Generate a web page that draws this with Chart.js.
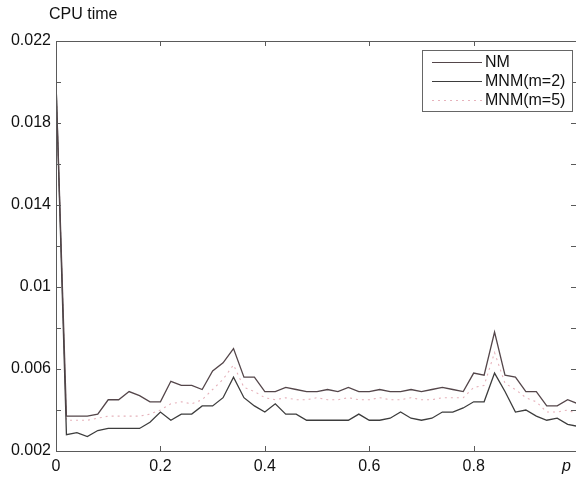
<!DOCTYPE html>
<html>
<head>
<meta charset="utf-8">
<script src="https://cdn.jsdelivr.net/npm/chart.js@4.4.1/dist/chart.umd.min.js"></script>
<style>
    body { margin: 0; background: #ffffff; }
    #wrap { width: 576px; height: 478px; }
</style>
</head>
<body>
<div id="wrap"><canvas id="cpuTimeGraphic" width="576" height="478"></canvas></div>
<script>
/* Data */
let pValues = [0, 0.02, 0.04, 0.06, 0.08, 0.10, 0.12, 0.14, 0.16, 0.18,
    0.20, 0.22, 0.24, 0.26, 0.28, 0.30, 0.32, 0.34, 0.36, 0.38,
    0.40, 0.42, 0.44, 0.46, 0.48, 0.50, 0.52, 0.54, 0.56, 0.58,
    0.60, 0.62, 0.64, 0.66, 0.68, 0.70, 0.72, 0.74, 0.76, 0.78,
    0.80, 0.82, 0.84, 0.86, 0.88, 0.90, 0.92, 0.94, 0.96, 0.98, 1.00];

let nmTimes = [0.0200, 0.0037, 0.0037, 0.0037, 0.0038, 0.0045, 0.0045, 0.0049, 0.0047, 0.0044,
    0.0044, 0.0054, 0.0052, 0.0052, 0.0050, 0.0059, 0.0063, 0.0070, 0.0056, 0.0056,
    0.0049, 0.0049, 0.0051, 0.0050, 0.0049, 0.0049, 0.0050, 0.0049, 0.0051, 0.0049,
    0.0049, 0.0050, 0.0049, 0.0049, 0.0050, 0.0049, 0.0050, 0.0051, 0.0050, 0.0049,
    0.0058, 0.0057, 0.0078, 0.0057, 0.0056, 0.0049, 0.0049, 0.0042, 0.0042, 0.0045, 0.0043];

let mnm2Times = [0.0200, 0.0028, 0.0029, 0.0027, 0.0030, 0.0031, 0.0031, 0.0031, 0.0031, 0.0034,
    0.0039, 0.0035, 0.0038, 0.0038, 0.0042, 0.0042, 0.0046, 0.0056, 0.0046, 0.0042,
    0.0039, 0.0043, 0.0038, 0.0038, 0.0035, 0.0035, 0.0035, 0.0035, 0.0035, 0.0038,
    0.0035, 0.0035, 0.0036, 0.0039, 0.0036, 0.0035, 0.0036, 0.0039, 0.0039, 0.0041,
    0.0044, 0.0044, 0.0058, 0.0049, 0.0039, 0.0040, 0.0037, 0.0035, 0.0036, 0.0033, 0.0032];

let mnm5Times = [0.0200, 0.0035, 0.0035, 0.0035, 0.0036, 0.0037, 0.0037, 0.0037, 0.0037, 0.0038,
    0.0040, 0.0043, 0.0044, 0.0043, 0.0045, 0.0050, 0.0055, 0.0062, 0.0051, 0.0049,
    0.0046, 0.0045, 0.0046, 0.0045, 0.0045, 0.0046, 0.0045, 0.0045, 0.0046, 0.0045,
    0.0045, 0.0046, 0.0045, 0.0045, 0.0046, 0.0045, 0.0045, 0.0046, 0.0046, 0.0046,
    0.0051, 0.0052, 0.0068, 0.0053, 0.0050, 0.0046, 0.0044, 0.0039, 0.0039, 0.0040, 0.0038];

let seriesNames = ['NM', 'MNM(m=2)', 'MNM(m=5)'];
let xTickLabels = ['0', '0.2', '0.4', '0.6', '0.8'];
let yTickLabels = ['0.002', '0.006', '0.01', '0.014', '0.018', '0.022'];

let fontFamily = '"Liberation Sans", Arial, Helvetica, sans-serif';
let frameColor = '#5a5a5a';

function ToPoints(xs, ys) {
    let points = [];
    let index = 0;

    while (index < xs.length) {
        points.push({ x: xs[index], y: ys[index] });
        index++;
    }

    return points;
}

/* Frame, inward ticks, axis captions and legend box */
let framePlugin = {
    id: 'framePlugin',
    afterDatasetsDraw: function (chart) {
        let ctx = chart.ctx;
        let area = chart.chartArea;
        let xScale = chart.scales.x;
        let yScale = chart.scales.y;

        ctx.save();
        ctx.strokeStyle = frameColor;
        ctx.lineWidth = 1;
        ctx.strokeRect(area.left + 0.5, area.top + 0.5, area.right - area.left, area.bottom - area.top);

        ctx.beginPath();
        yScale.ticks.forEach(function (t) {
            let py = Math.round(yScale.getPixelForValue(t.value)) + 0.5;
            ctx.moveTo(area.left, py);
            ctx.lineTo(area.left + 5, py);
            ctx.moveTo(area.right, py);
            ctx.lineTo(area.right - 5, py);
        });
        xScale.ticks.forEach(function (t) {
            let px = Math.round(xScale.getPixelForValue(t.value)) + 0.5;
            ctx.moveTo(px, area.bottom);
            ctx.lineTo(px, area.bottom - 5);
            ctx.moveTo(px, area.top);
            ctx.lineTo(px, area.top + 5);
        });
        ctx.stroke();

        ctx.fillStyle = '#111111';
        ctx.font = '16px ' + fontFamily;
        ctx.textBaseline = 'middle';
        ctx.textAlign = 'left';
        ctx.fillText('CPU time', 49, 15);

        ctx.font = 'italic 16px ' + fontFamily;
        ctx.fillText('p', 562, 467);

        // legend
        let boxLeft = 422;
        let boxTop = 50;
        ctx.fillStyle = '#ffffff';
        ctx.fillRect(boxLeft, boxTop, 150, 61);
        ctx.strokeStyle = '#666666';
        ctx.strokeRect(boxLeft + 0.5, boxTop + 0.5, 150, 61);

        ctx.font = '16px ' + fontFamily;
        chart.data.datasets.forEach(function (ds, i) {
            let ly = 62 + i * 19;
            ctx.beginPath();
            ctx.strokeStyle = ds.borderColor;
            ctx.lineWidth = 1;
            ctx.setLineDash(ds.borderDash || []);
            ctx.moveTo(432, ly + 0.5);
            ctx.lineTo(482, ly + 0.5);
            ctx.stroke();
            ctx.setLineDash([]);
            ctx.fillStyle = '#111111';
            ctx.fillText(ds.label, 485, ly + 1);
        });
        ctx.restore();
    }
};

let ctx = document.getElementById('cpuTimeGraphic').getContext('2d');

let graphic = new Chart(ctx, {
    type: 'line',
    data: {
        datasets: [
            {
                label: seriesNames[0],
                data: ToPoints(pValues, nmTimes),
                borderColor: '#54464a',
                borderWidth: 1.3,
                pointRadius: 0,
                tension: 0
            },
            {
                label: seriesNames[1],
                data: ToPoints(pValues, mnm2Times),
                borderColor: '#3d3d3d',
                borderWidth: 1.3,
                pointRadius: 0,
                tension: 0
            },
            {
                label: seriesNames[2],
                data: ToPoints(pValues, mnm5Times),
                borderColor: '#e6b2bb',
                borderWidth: 1.1,
                borderDash: [2, 4],
                pointRadius: 0,
                tension: 0
            }
        ]
    },
    options: {
        responsive: false,
        animation: false,
        layout: {
            padding: { top: 41, right: 0, left: 0, bottom: 0 }
        },
        plugins: {
            legend: { display: false },
            tooltip: { enabled: false }
        },
        scales: {
            x: {
                type: 'linear',
                min: 0,
                max: 0.996,
                grid: { display: false, drawTicks: false },
                border: { display: false },
                afterFit: function (scale) { scale.height = 27; },
                ticks: {
                    stepSize: 0.2,
                    includeBounds: false,
                    padding: 6,
                    color: '#111111',
                    maxRotation: 0,
                    font: { family: fontFamily, size: 16 },
                    callback: function (value, index) {
                        return xTickLabels[index];
                    }
                }
            },
            y: {
                min: 0.002,
                max: 0.022,
                grid: { display: false, drawTicks: false },
                border: { display: false },
                afterFit: function (scale) { scale.width = 56; },
                ticks: {
                    stepSize: 0.002,
                    padding: 5,
                    color: '#111111',
                    font: { family: fontFamily, size: 16 },
                    autoSkip: false,
                    callback: function (value, index) {
                        if (index % 2 === 0) {
                            return yTickLabels[index / 2];
                        }
                        return '';
                    }
                }
            }
        }
    },
    plugins: [framePlugin]
});
</script>
</body>
</html>
